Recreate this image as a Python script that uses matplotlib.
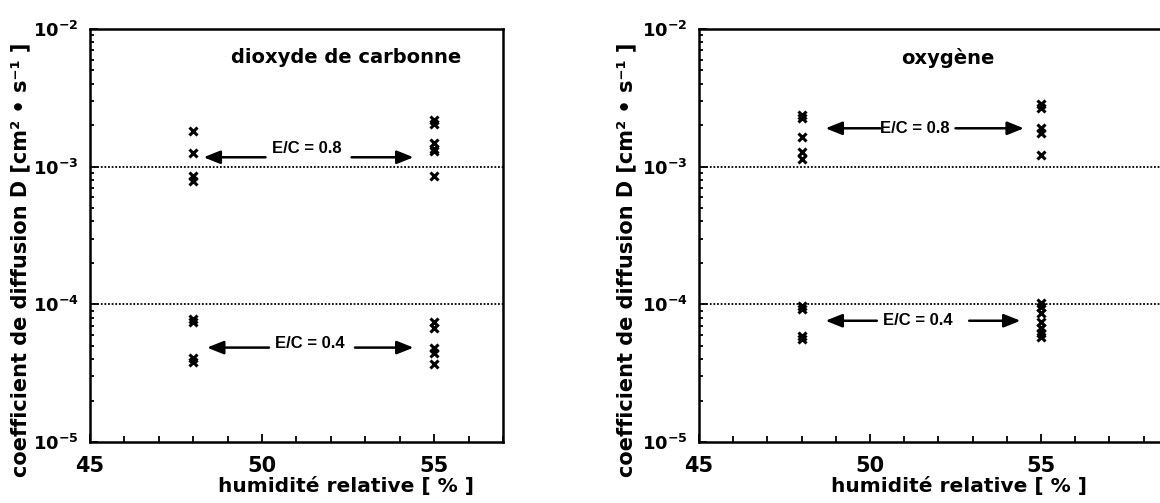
import matplotlib
matplotlib.use("Agg")
import matplotlib.pyplot as plt
from matplotlib.ticker import FixedLocator, LogLocator, NullFormatter

plt.rcParams['font.family'] = ['DejaVu Sans']

# humidity levels (x) and diffusion coefficients (cm2/s)
co2_x_08 = [48, 48, 48, 48, 55, 55, 55, 55, 55, 55]
co2_d_08 = [1.82e-3, 1.25e-3, 8.6e-4, 7.9e-4, 2.2e-3, 2.05e-3, 1.48e-3, 1.29e-3, 8.5e-4, 1.35e-3]
co2_x_04 = [48, 48, 48, 48, 55, 55, 55, 55, 55]
co2_d_04 = [7.8e-5, 7.4e-5, 4.1e-5, 3.8e-5, 7.5e-5, 6.7e-5, 4.8e-5, 4.4e-5, 3.7e-5]

o2_x_08 = [48, 48, 48, 48, 48, 55, 55, 55, 55, 55]
o2_d_08 = [2.37e-3, 2.25e-3, 1.65e-3, 1.27e-3, 1.13e-3, 2.85e-3, 2.65e-3, 1.9e-3, 1.75e-3, 1.22e-3]
o2_x_04 = [48, 48, 48, 48, 55, 55, 55, 55, 55, 55, 55]
o2_d_04 = [9.8e-5, 9.3e-5, 5.9e-5, 5.6e-5, 1.03e-4, 9.5e-5, 8.6e-5, 7.5e-5, 6.7e-5, 6.2e-5, 5.8e-5]

x_ticks = [45, 50, 55]
x_tick_labels = ["45", "50", "55"]
y_ticks = [1e-5, 1e-4, 1e-3, 1e-2]
y_tick_labels = [r"$\mathbf{10^{-5}}$", r"$\mathbf{10^{-4}}$", r"$\mathbf{10^{-3}}$", r"$\mathbf{10^{-2}}$"]
ref_lines = [1e-3, 1e-4]

# text / arrow placement: (label, y_text, y_arrow, left arrow (from,to), right arrow (from,to), x_text)
co2_notes = [("E/C = 0.8", 1.36e-3, 1.17e-3, (50.1, 48.3), (52.6, 54.4), 51.3),
             ("E/C = 0.4", 5.2e-5, 4.85e-5, (50.2, 48.4), (52.7, 54.4), 51.4)]
o2_notes = [("E/C = 0.8", 1.9e-3, 1.9e-3, (50.3, 48.7), (52.5, 54.5), 51.3),
            ("E/C = 0.4", 7.6e-5, 7.6e-5, (50.2, 48.7), (52.9, 54.4), 51.4)]

fig = plt.figure(figsize=(11.6, 5.03), dpi=100)
W, H = 1160, 503
ax1 = fig.add_axes([90 / W, 1 - 442 / H, 413 / W, 413 / H])
ax2 = fig.add_axes([699 / W, 1 - 442 / H, 461 / W, 413 / H])

ylabel = "coefficient de diffusion D [cm\u00b2 \u2022 s\u207b\u00b9 ]"
xlabel = "humidit\u00e9 relative [ % ]"


def style(ax, xmax, title, title_x, xlab_x, ylab_x):
    ax.set_yscale("log")
    ax.set_ylim(1e-5, 1e-2)
    ax.set_xlim(45, xmax)
    for y in ref_lines:
        ax.axhline(y, color="black", lw=1.3, ls=(0, (1, 1)), zorder=1)
    for s in ax.spines.values():
        s.set_linewidth(1.8)
    ax.xaxis.set_major_locator(FixedLocator(x_ticks))
    ax.set_xticklabels(x_tick_labels, fontsize=15, fontweight="bold")
    ax.xaxis.set_minor_locator(FixedLocator(range(46, 59)))
    ax.set_yticks(y_ticks)
    ax.set_yticklabels(y_tick_labels, fontsize=13)
    ax.yaxis.set_minor_locator(LogLocator(base=10, subs=range(2, 10)))
    ax.yaxis.set_minor_formatter(NullFormatter())
    ax.tick_params(which="both", direction="in", top=False, right=False, width=1.3)
    ax.tick_params(axis="x", which="major", length=6, pad=10)
    ax.tick_params(axis="x", which="minor", length=4)
    ax.tick_params(axis="y", which="major", length=6, pad=8)
    ax.tick_params(axis="y", which="minor", length=3)
    ax.text(title_x, 0.955, title, transform=ax.transAxes, ha="center", va="top",
            fontsize=14, fontweight="bold")
    ax.set_xlabel(xlabel, fontsize=14.5, fontweight="bold")
    ax.xaxis.set_label_coords(xlab_x, -0.085)
    ax.set_ylabel(ylabel, fontsize=15, fontweight="bold")
    ax.yaxis.set_label_coords(ylab_x, 0.44)


def notes(ax, items):
    for label, yt, ya, (l0, l1), (r0, r1), xt in items:
        ax.text(xt, yt, label, ha="center", va="center", fontsize=12,
                fontweight="bold", family="Liberation Sans", color="black")
        for a0, a1 in [(l0, l1), (r0, r1)]:
            ax.annotate("", xy=(a1, ya), xytext=(a0, ya),
                        arrowprops=dict(arrowstyle="-|>,head_length=1.0,head_width=0.4",
                                        color="black", lw=1.8, shrinkA=0, shrinkB=0))


style(ax1, 57, "dioxyde de carbonne", 0.62, 0.62, -0.145)
ax1.plot(co2_x_08, co2_d_08, "x", color="black", ms=5.5, mew=2.2, zorder=3)
ax1.plot(co2_x_04, co2_d_04, "x", color="black", ms=5.5, mew=2.2, zorder=3)
notes(ax1, co2_notes)

style(ax2, 45 + 461 / 34.2, "oxyg\u00e8ne", 0.54, 0.565, -0.135)
ax2.spines["right"].set_visible(False)
ax2.plot(o2_x_08, o2_d_08, "x", color="black", ms=5.5, mew=2.2, zorder=3)
ax2.plot(o2_x_04, o2_d_04, "x", color="black", ms=5.5, mew=2.2, zorder=3)
notes(ax2, o2_notes)

fig.savefig("out.png", dpi=100)
